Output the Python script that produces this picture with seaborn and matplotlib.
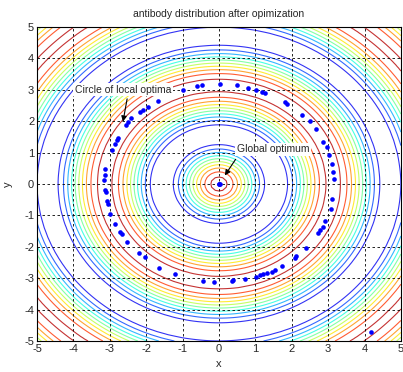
import numpy as np
import pandas as pd
import matplotlib
matplotlib.use("Agg")
import matplotlib.pyplot as plt
import seaborn as sns

# antibody positions
px = [-0.98, -0.60, -0.46, 0.03, 0.49, 0.79, 1.02, 1.19, 1.26, 1.81, 1.88, 2.27,
      2.50, 2.66, 2.87, 2.96, 3.03, 3.10, 3.14, 3.17,
      -1.68, -1.94, -2.08, -2.18, -2.42, -2.49, -2.55, -2.77, -2.81, -2.86, -2.95,
      -3.12, -3.14, -3.16,
      -3.13, -3.10, -3.09, -3.05, -2.99, -2.86, -2.72, -2.67, -2.54, -2.19, -2.03,
      -1.64, -1.21,
      -0.45, -0.14, 0.35, 0.39, 0.71, 1.02, 1.13, 1.22, 1.31, 1.45, 1.54, 1.72,
      2.09, 2.13, 2.40, 2.73, 2.79, 2.85, 2.91, 3.07, 3.12,
      0.00, 0.02, -0.01,
      4.17]
py = [3.00, 3.11, 3.15, 3.18, 3.15, 3.07, 2.99, 2.93, 2.91, 2.62, 2.54, 2.21,
      2.01, 1.75, 1.34, 1.17, 0.92, 0.65, 0.39, 0.15,
      2.66, 2.44, 2.35, 2.29, 2.09, 1.98, 1.88, 1.48, 1.40, 1.29, 1.09,
      0.49, 0.28, 0.13,
      -0.20, -0.25, -0.54, -0.65, -0.94, -1.28, -1.52, -1.60, -1.84, -2.21, -2.34,
      -2.66, -2.85,
      -3.09, -3.12, -3.09, -3.06, -3.03, -2.96, -2.90, -2.87, -2.83, -2.80, -2.75, -2.62,
      -2.37, -2.30, -2.05, -1.56, -1.46, -1.37, -1.17, -0.78, -0.49,
      0.00, 0.01, -0.01,
      -4.71]

ticks = [-5, -4, -3, -2, -1, 0, 1, 2, 3, 4, 5]
levels = np.linspace(0.1, 0.95, 10)

# Schaffer test function (maximisation form)
g = np.arange(-5, 5.001, 0.1)
X, Y = np.meshgrid(g, g)
R2 = X**2 + Y**2
Z = 0.5 - (np.sin(np.sqrt(R2))**2 - 0.5) / (1 + 0.001 * R2)**2

df = pd.DataFrame({'x': px, 'y': py})

sns.set_style("white")
plt.rcParams['font.family'] = ['Liberation Sans', 'DejaVu Sans']
plt.rcParams['axes.unicode_minus'] = False

fig = plt.figure(figsize=(4.03, 3.72), dpi=100)
ax = fig.add_axes([0.0918, 0.0833, 0.903, 0.844])

ax.contour(X, Y, Z, levels=levels, cmap='jet', vmin=Z.min(), vmax=Z.max(),
           linewidths=0.8, alpha=0.8)
sns.scatterplot(data=df, x='x', y='y', ax=ax, color='blue', marker='o', s=11,
                linewidth=0, zorder=5)

ax.set_xlim(-5, 5)
ax.set_ylim(-5, 5)
ax.set_xticks(ticks)
ax.set_yticks(ticks)
ax.tick_params(direction='in', length=3, labelsize=8, color='k', pad=2)
ax.grid(True, color='k', linestyle=(0, (3, 3)), linewidth=0.6)
ax.set_axisbelow(False)
for s in ax.spines.values():
    s.set_color('k')
    s.set_linewidth(0.8)

ax.set_title('antibody distribution after opimization', fontsize=7.5, pad=7)
ax.set_xlabel('x', fontsize=8, labelpad=4)
ax.set_ylabel('y', fontsize=8, labelpad=8)

box = dict(facecolor='white', edgecolor='none', pad=1)
ax.text(-3.96, 3.0, 'Circle of local optima', fontsize=7.5, ha='left', va='center',
        bbox=box, zorder=6)
ax.text(0.49, 1.1, 'Global optimum', fontsize=7.5, ha='left', va='center',
        bbox=box, zorder=6)
arrow = dict(arrowstyle='-|>', color='k', lw=0.8, mutation_scale=8)
ax.annotate('', xy=(-2.65, 1.90), xytext=(-2.51, 2.80), arrowprops=arrow, zorder=6)
ax.annotate('', xy=(0.12, 0.20), xytext=(0.50, 0.86), arrowprops=arrow, zorder=6)

fig.savefig('out.png', dpi=100)
